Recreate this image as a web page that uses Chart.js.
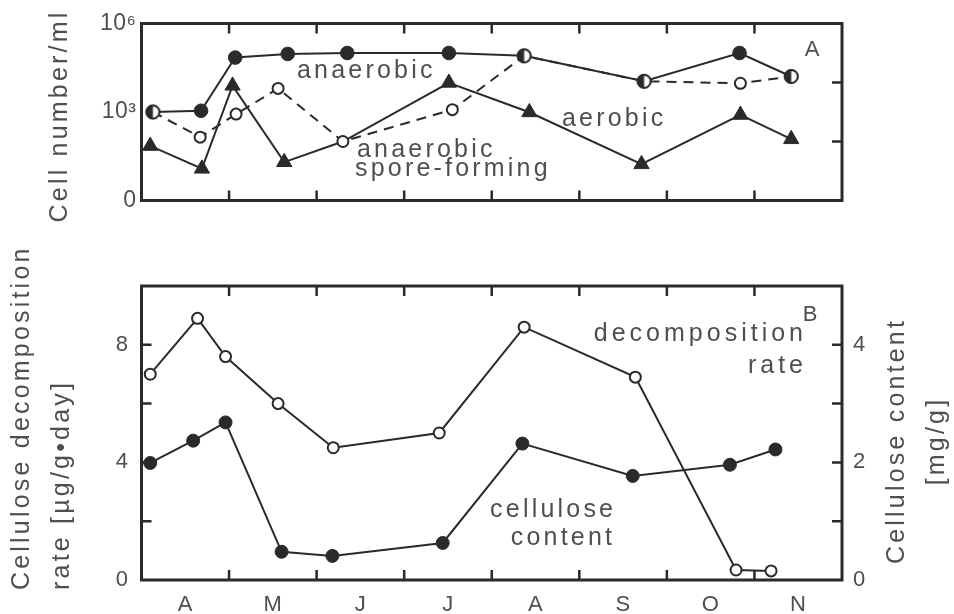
<!DOCTYPE html>
<html>
<head>
<meta charset="utf-8">
<script src="https://cdn.jsdelivr.net/npm/chart.js@4.4.1/dist/chart.umd.min.js"></script>
<style>
  html, body { margin: 0; padding: 0; background: #fff; }
  #wrap { position: relative; width: 954px; height: 614px; }
  canvas { position: absolute; left: 0; }
  #cellsChart { top: 0; }
  #celluloseChart { top: 240px; }
</style>
</head>
<body>
<div id="wrap">
  <canvas id="cellsChart" width="954" height="240"></canvas>
  <canvas id="celluloseChart" width="954" height="374"></canvas>
</div>
<script>
// time axis: months counted from 1 April (0) to 1 December (8)
const monthLetters = ['A', 'M', 'J', 'J', 'A', 'S', 'O', 'N'];
const monthLabelPos = [0.5, 1.5, 2.5, 3.5, 4.5, 5.5, 6.5, 7.5];
const monthEdges = [1, 2, 3, 4, 5, 6, 7];

// A: cell number per ml
const anaerobicMonths = [0.13, 0.68, 1.07, 1.67, 2.35, 3.51, 4.37, 5.74, 6.83, 7.42];
const anaerobicCells  = [1.0e3, 1.1e3, 7.0e4, 9.3e4, 1.0e5, 1.0e5, 8.0e4, 1.1e4, 1.0e5, 1.6e4];
const sporeMonths     = [0.13, 0.67, 1.08, 1.56, 2.30, 3.55, 4.37, 5.74, 6.84, 7.42];
const sporeCells      = [1.0e3, 1.4e2, 8.5e2, 6.3e3, 1.0e2, 1.2e3, 8.0e4, 1.1e4, 9.4e3, 1.6e4];
const aerobicMonths   = [0.10, 0.69, 1.04, 1.63, 2.30, 3.51, 4.43, 5.71, 6.84, 7.42];
const aerobicCells    = [71, 12, 7.8e3, 20, 1.0e2, 9.8e3, 9.8e2, 17, 8.0e2, 1.2e2];
const cellTickValues  = [1, 1e3, 1e6];
const cellTickLabels  = ['0', '10³', '10⁶'];
const cellMinorTicks  = [1e2, 1e4];

// B: cellulose decomposition rate (left axis) and cellulose content (right axis)
const rateMonths    = [0.10, 0.64, 0.96, 1.56, 2.19, 3.40, 4.37, 5.64, 6.79, 7.19];
const rateValues    = [7.0, 8.9, 7.6, 6.0, 4.5, 5.0, 8.6, 6.9, 0.34, 0.31];
const contentMonths = [0.10, 0.59, 0.96, 1.60, 2.18, 3.44, 4.35, 5.61, 6.72, 7.24];
const contentValues = [1.99, 2.37, 2.68, 0.48, 0.41, 0.63, 2.32, 1.77, 1.96, 2.22];
const rateTicks     = [0, 4, 8];
const rateMinor     = [2, 4, 6, 8];
const contentTicks  = [0, 2, 4];
const contentMinor  = [1, 2, 3, 4];

const FONT = '"Liberation Sans", Arial, Helvetica, sans-serif';
const INK = '#2a2a2a';
const GREY = '#4f4f4f';
Chart.defaults.font.family = FONT;

const pts = (xs, ys) => xs.map((x, i) => ({ x, y: ys[i] }));
const same = (xa, ya, xb, yb) => i => xa[i] === xb[i] && ya[i] === yb[i];
const sporeOnAnaerobic = same(sporeMonths, sporeCells, anaerobicMonths, anaerobicCells);
const aerobicOnSpore = same(aerobicMonths, aerobicCells, sporeMonths, sporeCells);

// half filled circle where two counts coincide
function halfDot(r) {
  const c = document.createElement('canvas');
  const s = Math.ceil(2 * r + 4);
  c.width = s; c.height = s;
  const g = c.getContext('2d');
  const m = s / 2;
  g.fillStyle = '#fff';
  g.beginPath(); g.arc(m, m, r, 0, Math.PI * 2); g.fill();
  g.fillStyle = INK;
  g.beginPath(); g.arc(m, m, r, Math.PI / 2, Math.PI * 1.5); g.closePath(); g.fill();
  g.strokeStyle = INK; g.lineWidth = 2;
  g.beginPath(); g.arc(m, m, r, 0, Math.PI * 2); g.stroke();
  return c;
}
const HALF = halfDot(6.5);

function monthAxis(showLabels, height) {
  return {
    type: 'linear', min: 0, max: 8,
    afterFit: s => { s.height = height; },
    afterBuildTicks: s => { s.ticks = monthLabelPos.map(v => ({ value: v })); },
    grid: { display: false, drawTicks: false },
    border: { display: false },
    ticks: {
      display: showLabels, autoSkip: false, maxRotation: 0, padding: 12,
      color: GREY, font: { size: 22 },
      callback: (v, i) => monthLetters[i]
    }
  };
}

function valueAxis(opts) {
  return Object.assign({
    grid: { display: false, drawTicks: false },
    border: { display: false },
    afterFit: s => { s.width = opts.width; },
    afterBuildTicks: s => { s.ticks = opts.ticks.map(v => ({ value: v })); },
    ticks: {
      padding: opts.padding, color: GREY, font: { size: opts.size || 22 },
      callback: (v, i) => opts.labels[i]
    }
  }, opts.scale);
}

// frame, inward tick marks, in-plot labels and rotated axis titles
const framePlugin = {
  id: 'frame',
  beforeDraw(chart) { chart.ctx.letterSpacing = '0.5px'; },
  afterDraw(chart, args, o) {
    const { ctx, chartArea: a, scales } = chart;
    ctx.save();
    ctx.strokeStyle = INK;
    ctx.lineWidth = 3;
    ctx.strokeRect(a.left, a.top, a.width, a.height);
    const L = 10;
    ctx.lineWidth = 2.5;
    ctx.beginPath();
    monthEdges.forEach(m => {
      const x = scales.x.getPixelForValue(m);
      ctx.moveTo(x, a.top); ctx.lineTo(x, a.top + L);
      ctx.moveTo(x, a.bottom); ctx.lineTo(x, a.bottom - L);
    });
    (o.left || []).forEach(v => {
      const y = scales[o.leftAxis].getPixelForValue(v);
      ctx.moveTo(a.left, y); ctx.lineTo(a.left + L, y);
    });
    (o.right || []).forEach(v => {
      const y = scales[o.rightAxis].getPixelForValue(v);
      ctx.moveTo(a.right, y); ctx.lineTo(a.right - L, y);
    });
    ctx.stroke();

    ctx.fillStyle = GREY;
    (o.labels || []).forEach(l => {
      const ls = l.ls ?? 3.2;
      ctx.font = (l.size || 25) + 'px ' + FONT;
      ctx.letterSpacing = ls + 'px';
      ctx.textAlign = l.align || 'left';
      ctx.textBaseline = l.baseline || 'alphabetic';
      const shift = ctx.textAlign === 'right' ? ls : 0;
      ctx.fillText(l.text, l.x + shift, l.y);
    });
    (o.titles || []).forEach(t => {
      ctx.save();
      ctx.translate(t.x, t.y);
      ctx.rotate(-Math.PI / 2);
      ctx.font = '25px ' + FONT;
      ctx.letterSpacing = '3.2px';
      ctx.textAlign = t.align;
      ctx.textBaseline = 'middle';
      ctx.fillText(t.text, 0, 0);
      ctx.restore();
    });
    ctx.restore();
  }
};

new Chart(document.getElementById('cellsChart'), {
  type: 'line',
  data: {
    datasets: [
      {
        label: 'anaerobic spore-forming',
        data: pts(sporeMonths, sporeCells),
        borderColor: INK, borderWidth: 2, borderDash: [10, 7],
        pointStyle: c => sporeOnAnaerobic(c.dataIndex) ? HALF : 'circle',
        pointRadius: 5.5, pointBorderWidth: 2,
        pointBackgroundColor: '#fff', pointBorderColor: INK
      },
      {
        label: 'anaerobic',
        data: pts(anaerobicMonths, anaerobicCells),
        borderColor: INK, borderWidth: 2,
        pointStyle: 'circle', pointRadius: 6.8, pointBorderWidth: 1,
        pointBackgroundColor: INK, pointBorderColor: INK
      },
      {
        label: 'aerobic',
        data: pts(aerobicMonths, aerobicCells),
        borderColor: INK, borderWidth: 2,
        pointStyle: 'triangle',
        pointRadius: c => aerobicOnSpore(c.dataIndex) ? 0 : 8.8,
        pointBorderWidth: 1,
        pointBackgroundColor: INK, pointBorderColor: INK
      }
    ]
  },
  options: {
    responsive: false, devicePixelRatio: 1, animation: false, events: [],
    layout: { autoPadding: false, padding: { top: 23.5, right: 112, left: 0, bottom: 0 } },
    scales: {
      x: monthAxis(false, 39.5),
      y: valueAxis({
        width: 141.5, padding: 5, size: 23, ticks: cellTickValues, labels: cellTickLabels,
        scale: { type: 'logarithmic', min: 1, max: 1e6 }
      })
    },
    plugins: {
      legend: { display: false }, tooltip: { enabled: false },
      frame: {
        rightAxis: 'y', right: cellMinorTicks,
        labels: [
          { text: 'anaerobic', x: 297, y: 78 },
          { text: 'aerobic', x: 562, y: 125.5 },
          { text: 'anaerobic', x: 357, y: 157 },
          { text: 'spore-forming', x: 355, y: 176 },
          { text: 'A', x: 812, y: 50, size: 22, ls: 0, align: 'center', baseline: 'middle' }
        ],
        titles: [{ text: 'Cell number/ml', x: 60, y: 116, align: 'center' }]
      }
    }
  },
  plugins: [framePlugin]
});

new Chart(document.getElementById('celluloseChart'), {
  type: 'line',
  data: {
    datasets: [
      {
        label: 'decomposition rate',
        data: pts(rateMonths, rateValues),
        yAxisID: 'y',
        borderColor: INK, borderWidth: 2,
        pointStyle: 'circle', pointRadius: 5.5, pointBorderWidth: 2,
        pointBackgroundColor: '#fff', pointBorderColor: INK
      },
      {
        label: 'cellulose content',
        data: pts(contentMonths, contentValues),
        yAxisID: 'y1',
        borderColor: INK, borderWidth: 2,
        pointStyle: 'circle', pointRadius: 6.5, pointBorderWidth: 1,
        pointBackgroundColor: INK, pointBorderColor: INK
      }
    ]
  },
  options: {
    responsive: false, devicePixelRatio: 1, animation: false, events: [],
    layout: { autoPadding: false, padding: { top: 46, right: 0, left: 0, bottom: 0 } },
    scales: {
      x: monthAxis(true, 34),
      y: valueAxis({
        width: 141.5, padding: 13, ticks: rateTicks, labels: rateTicks.map(String),
        scale: { type: 'linear', min: 0, max: 10, position: 'left' }
      }),
      y1: valueAxis({
        width: 112, padding: 11, ticks: contentTicks, labels: contentTicks.map(String),
        scale: { type: 'linear', min: 0, max: 5, position: 'right' }
      })
    },
    plugins: {
      legend: { display: false }, tooltip: { enabled: false },
      frame: {
        leftAxis: 'y', left: rateMinor,
        rightAxis: 'y1', right: contentMinor,
        labels: [
          { text: 'decomposition', x: 803, y: 101, align: 'right', ls: 4 },
          { text: 'rate', x: 803, y: 133, align: 'right', ls: 4 },
          { text: 'cellulose', x: 613, y: 276.5, align: 'right' },
          { text: 'content', x: 612, y: 305, align: 'right' },
          { text: 'B', x: 810, y: 74.5, size: 22, ls: 0, align: 'center', baseline: 'middle' }
        ],
        titles: [
          { text: 'Cellulose decomposition', x: 22, y: 350, align: 'left' },
          { text: 'rate [µg/g•day]', x: 62, y: 350, align: 'left' },
          { text: 'Cellulose content', x: 897, y: 201, align: 'center' },
          { text: '[mg/g]', x: 937, y: 201, align: 'center' }
        ]
      }
    }
  },
  plugins: [framePlugin]
});
</script>
</body>
</html>
